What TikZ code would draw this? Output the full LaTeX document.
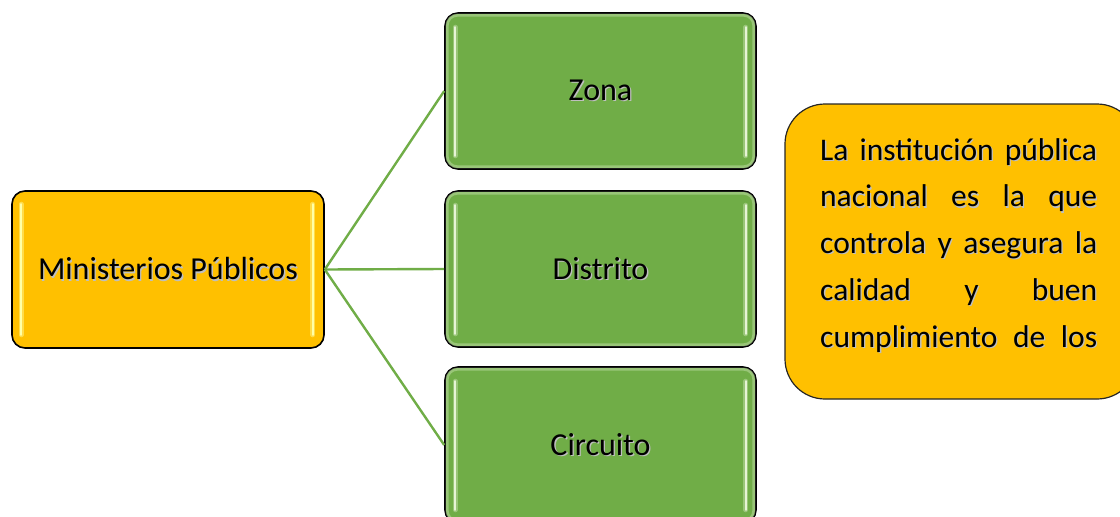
\documentclass[tikz,border=0pt]{standalone}
\usepackage{fontspec}
\setmainfont{Carlito}
\definecolor{ogold}{HTML}{FFC000}
\definecolor{lgreen}{HTML}{70AD47}
\definecolor{hlyellow}{HTML}{FFFFA8}
\definecolor{hlgreen}{HTML}{E6F4D6}
% text with a soft grey drop shadow
\newcommand\shtxt[1]{\leavevmode\rlap{\kern1.3pt\raisebox{-1.3pt}{\textcolor{black!25}{#1}}}#1}
\tikzset{
  box/.style={draw=black, line width=1.6pt, rounded corners=13pt, inner sep=0pt,
    font=\fontsize{32}{36}\selectfont},
  orangebox/.style={box, fill=ogold, minimum width=312pt, minimum height=157pt},
  greenbox/.style={box, fill=lgreen, minimum width=311pt, minimum height=156pt},
  notebox/.style={draw=black!85, line width=1.2pt, rounded corners=40pt, fill=ogold,
    minimum width=352pt, minimum height=295pt, inner sep=0pt},
  notetext/.style={align=left, inner sep=0pt, font=\fontsize{31.5}{46.7}\selectfont},
  link/.style={draw=lgreen, line width=2.4pt},
  glowy/.style={draw=hlyellow, line width=5pt, opacity=0.45, line cap=round},
  stripey/.style={draw=hlyellow, line width=2.4pt, line cap=round},
  glowg/.style={draw=hlgreen, line width=5pt, opacity=0.35, line cap=round},
  stripeg/.style={draw=hlgreen, line width=2.4pt, line cap=round},
  rimg/.style={draw=hlgreen, line width=3pt, opacity=0.35, rounded corners=10pt},
}
\begin{document}
\begin{tikzpicture}[x=1pt,y=-1pt]
\clip (0,0) rectangle (1120,517);

% root box
\node[orangebox] (mp) at (168,269.5) {\shtxt{Ministerios Públicos}};

% branch boxes
\node[greenbox] (zona) at (600.5,91) {\shtxt{Zona}};
\node[greenbox] (distrito) at (600.5,269) {\shtxt{Distrito}};
\node[greenbox] (circuito) at (600.5,445) {\shtxt{Circuito}};

% side note
\node[notebox] (nota) at (961,251.5) {};
\node[notetext, anchor=base west] (notatxt) at (820,347) {%
  \shtxt{\makebox[277pt][s]{La institución pública}}\\
  \shtxt{\makebox[277pt][s]{nacional es la que}}\\
  \shtxt{\makebox[277pt][s]{controla y asegura la}}\\
  \shtxt{\makebox[277pt][s]{calidad y buen}}\\
  \shtxt{\makebox[277pt][s]{cumplimiento de los}}};

% highlight stripes along the inner edges
\path[glowy] ([xshift=10pt,yshift=-14pt]mp.north west) -- ([xshift=10pt,yshift=14pt]mp.south west);
\draw[stripey] ([xshift=10pt,yshift=-14pt]mp.north west) -- ([xshift=10pt,yshift=14pt]mp.south west);
\path[glowy] ([xshift=-12pt,yshift=-14pt]mp.north east) -- ([xshift=-12pt,yshift=14pt]mp.south east);
\draw[stripey] ([xshift=-12pt,yshift=-14pt]mp.north east) -- ([xshift=-12pt,yshift=14pt]mp.south east);

\foreach \b in {zona,distrito,circuito}{
  \draw[rimg] ([xshift=3pt,yshift=-3pt]\b.north west) rectangle ([xshift=-3pt,yshift=3pt]\b.south east);
  \path[glowg] ([xshift=11pt,yshift=-15pt]\b.north west) -- ([xshift=11pt,yshift=14pt]\b.south west);
  \draw[stripeg] ([xshift=11pt,yshift=-15pt]\b.north west) -- ([xshift=11pt,yshift=14pt]\b.south west);
  \path[glowg] ([xshift=-11pt,yshift=-15pt]\b.north east) -- ([xshift=-11pt,yshift=14pt]\b.south east);
  \draw[stripeg] ([xshift=-11pt,yshift=-15pt]\b.north east) -- ([xshift=-11pt,yshift=14pt]\b.south east);
}

% connectors
\draw[link] (mp.east) -- (zona.west);
\draw[link] (mp.east) -- (distrito.west);
\draw[link] (mp.east) -- (circuito.west);
\end{tikzpicture}
\end{document}
